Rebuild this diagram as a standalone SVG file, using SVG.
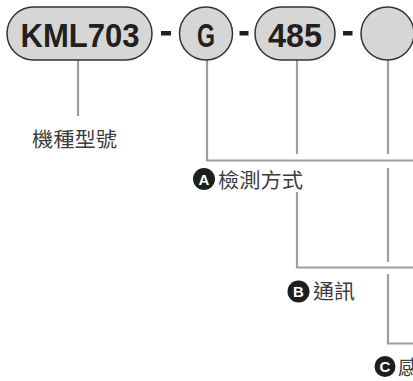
<svg xmlns="http://www.w3.org/2000/svg" width="413" height="381" viewBox="0 0 413 381">
<style>
.box{fill:#d6d6d6;stroke:#333;stroke-width:1.5}
.code{font-family:"Liberation Sans",Arial,sans-serif;font-weight:bold;font-size:34px;fill:#231f20;text-anchor:middle}
.dash{fill:#231f20}
.ln{fill:none;stroke:#9e9e9e;stroke-width:2.2}
.lbl{font-family:"Noto Sans CJK TC","Noto Sans CJK SC",sans-serif;font-size:20.5px;fill:#3c3c3c}
.badge{fill:#1e1e1e}
.bt{font-family:"Liberation Sans",Arial,sans-serif;font-weight:bold;font-size:15px;fill:#fff;text-anchor:middle}
</style>
<rect width="413" height="381" fill="#fff"/>
<g id="connectors">
<path class="ln" d="M78 60V116"/>
<path class="ln" d="M207 60V160.5H413"/>
<path class="ln" d="M297 60V154M297 192V267.5H413"/>
<path class="ln" d="M388 60V154M388 168V262M388 274V343.5H413"/>
</g>
<g id="node-model">
<rect class="box" x="7" y="7" width="145" height="53" rx="26.5"/>
<text class="code" x="80" y="46.5" textLength="119" lengthAdjust="spacingAndGlyphs">KML703</text>
</g>
<rect class="dash" x="161" y="31" width="10" height="4.5"/>
<g id="node-g">
<circle class="box" cx="206" cy="33.5" r="26.5"/>
<text class="code" x="206" y="46.5" textLength="18" lengthAdjust="spacingAndGlyphs">G</text>
</g>
<rect class="dash" x="239.5" y="31" width="9" height="4.5"/>
<g id="node-485">
<rect class="box" x="255" y="7" width="80" height="53" rx="26.5"/>
<text class="code" x="295" y="46.5" textLength="54" lengthAdjust="spacingAndGlyphs">485</text>
</g>
<rect class="dash" x="343" y="31" width="9.5" height="4.5"/>
<g id="node-blank">
<circle class="box" cx="387.5" cy="33.5" r="26.5"/>
</g>
<g id="label-model">
<text class="lbl" x="32" y="147" textLength="85" lengthAdjust="spacingAndGlyphs">機種型號</text>
</g>
<g id="label-a">
<circle class="badge" cx="204" cy="179" r="11"/>
<text class="bt" x="204" y="184.5">A</text>
<text class="lbl" x="218" y="188" textLength="85" lengthAdjust="spacingAndGlyphs">檢測方式</text>
</g>
<g id="label-b">
<circle class="badge" cx="298.5" cy="291.5" r="11"/>
<text class="bt" x="298.5" y="297">B</text>
<text class="lbl" x="313" y="299" textLength="42" lengthAdjust="spacingAndGlyphs">通訊</text>
</g>
<g id="label-c">
<circle class="badge" cx="385" cy="366.5" r="10.5"/>
<text class="bt" x="385" y="372">C</text>
<text class="lbl" x="398" y="375">感</text>
</g>
</svg>
